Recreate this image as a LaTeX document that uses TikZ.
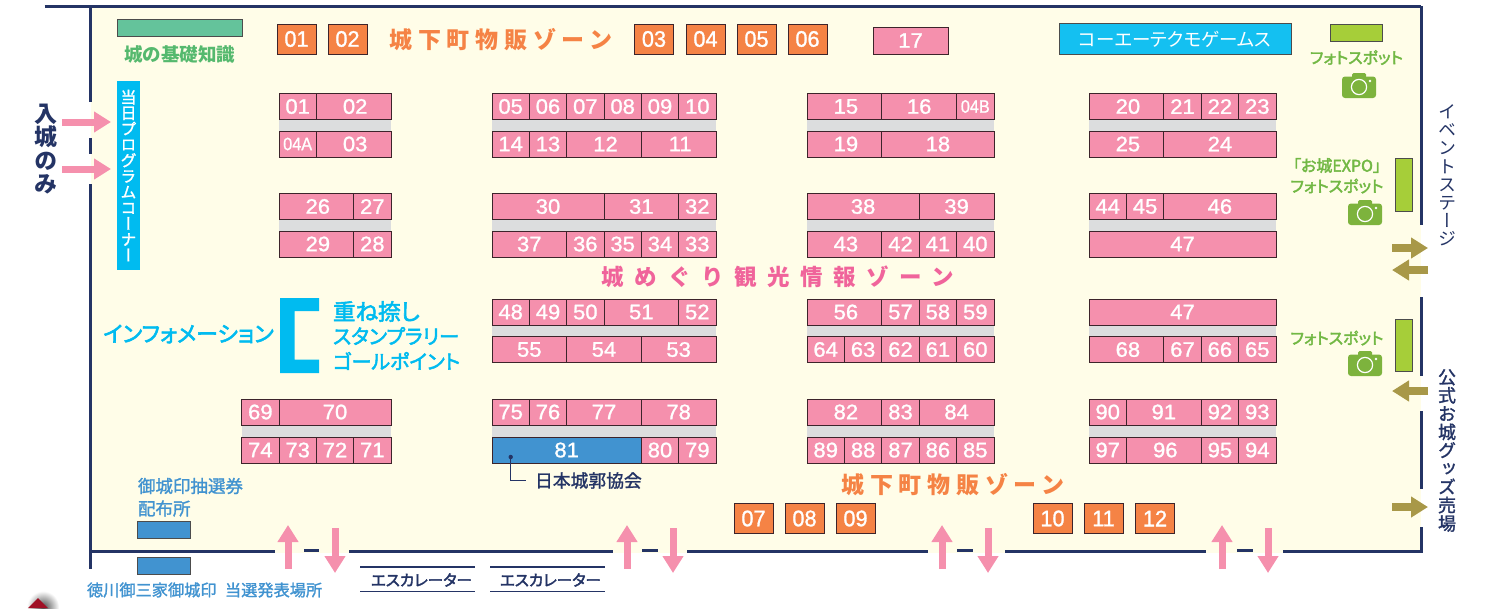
\documentclass[tikz,border=0pt]{standalone}
\usepackage{fontspec}
\usetikzlibrary{arrows.meta}
\setmainfont[FakeBold=1.2,FakeStretch=1.05]{Liberation Sans}
\newfontfamily\jp{Noto Sans CJK JP}
\newfontfamily\jpm[FakeBold=1.5]{Noto Sans CJK JP}
\newfontfamily\jpp[RawFeature=+palt]{Noto Sans CJK JP}
\newfontfamily\jppm[RawFeature=+palt,FakeBold=2.5]{Noto Sans CJK JP}
\newfontfamily\jpv[RawFeature=+vert]{Noto Sans CJK JP}
\newfontfamily\jpvm[RawFeature=+vert,FakeBold=1.5]{Noto Sans CJK JP}
\newfontfamily\jpsA[LetterSpace=25]{Noto Sans CJK JP}
\newfontfamily\jpsB[LetterSpace=47]{Noto Sans CJK JP}
\definecolor{cream}{HTML}{FFFDE8}
\definecolor{navy}{HTML}{243465}
\definecolor{boothpink}{HTML}{F590AD}
\definecolor{aisle}{HTML}{DCDDDE}
\definecolor{orangeb}{HTML}{F58345}
\definecolor{zonepink}{HTML}{F0649B}
\definecolor{skyb}{HTML}{00BBF0}
\definecolor{kblue}{HTML}{4193D0}
\definecolor{lime}{HTML}{A6CE39}
\definecolor{photog}{HTML}{72B844}
\definecolor{camg}{HTML}{7DB33D}
\definecolor{olive}{HTML}{A89848}
\definecolor{seagreen}{HTML}{64C39B}
\definecolor{basegreen}{HTML}{55B96E}
\definecolor{markred}{HTML}{A01025}
\newcommand\fs[1]{\fontsize{#1}{#1}\selectfont}
\newcommand\sh{\hspace*{3pt}}
\tikzset{
  boxbase/.style={draw=black!75!boothpink,line width=.8pt,inner sep=0pt,outer sep=0pt,text=white},
  booth/.style={boxbase,fill=boothpink,font=\fs{21}},
  boothblue/.style={boxbase,fill=kblue,font=\fs{21}},
  orangebox/.style={boxbase,fill=orangeb,font=\fs{22.5},minimum width=39pt,minimum height=30pt},
  plainbox/.style={draw=black!70,line width=.8pt,inner sep=0pt,outer sep=0pt},
  txt/.style={inner sep=0pt,outer sep=0pt},
  wall/.style={draw=navy,line width=3pt},
  thinline/.style={draw=navy,line width=1.3pt},
  pinkarrow/.style={draw=boothpink,line width=7pt,-{Triangle[length=17pt,width=20pt]}},
  olivearrow/.style={draw=olive,line width=7.5pt,-{Triangle[length=17pt,width=20pt]}},
}
\newcounter{cellc}
\def\bx{0}\def\bw{0}\def\ry{0}\def\rh{0}
\newcommand\setblock[2]{\def\bx{#1}\def\bw{#2}}
\newcommand\setrow[2]{\def\ry{#1}\def\rh{#2}}
\newcommand\cell[4][booth]{%
  \stepcounter{cellc}%
  \pgfmathsetmacro\cxa{\bx+(#2)*\bw}%
  \pgfmathsetmacro\cxb{\bx+(#3)*\bw}%
  \pgfmathsetmacro\cxm{(\cxa+\cxb)/2}%
  \pgfmathsetmacro\cwd{\cxb-\cxa}%
  \pgfmathsetmacro\cym{\ry+\rh/2}%
  \node[#1,minimum width=\cwd pt,minimum height=\rh pt] (cell\arabic{cellc}) at (\cxm,\cym) {#4};}
\newcommand\camera[2]{%
  \begin{scope}[shift={(#1,#2)}]
    \fill[camg,rounded corners=3pt] (0,3.5) rectangle (34,25);
    \fill[camg,rounded corners=1.5pt] (10,0) rectangle (24,6);
    \draw[white,line width=1.2pt] (17,14) circle (7.6);
    \fill[white] (28,8) circle (1.3);
  \end{scope}}
\begin{document}
\begin{tikzpicture}[x=1pt,y=-1pt]
\useasboundingbox (0,0) rectangle (1487,608);
% floor
\fill[cream] (91,6) rectangle (1421,553);
% walls
\draw[wall] (44.5,6) -- (1421,6);
\draw[wall] (90.5,6) -- (90.5,102);
\draw[wall] (90.5,138) -- (90.5,154);
\draw[wall] (90.5,184) -- (90.5,569);
\draw[wall] (1421,6) -- (1421,225);
\draw[wall] (1421,297) -- (1421,376);
\draw[wall] (1421,411) -- (1421,489);
\draw[wall] (1421,527) -- (1421,551.5);
\draw[wall] (90.5,551.5) -- (275,551.5);
\draw[wall] (304,550.3) -- (319,550.3);
\draw[wall] (349,551.5) -- (613,551.5);
\draw[wall] (642,550.3) -- (658,550.3);
\draw[wall] (687,551.5) -- (928,551.5);
\draw[wall] (957,550.3) -- (973,550.3);
\draw[wall] (1005,551.5) -- (1206,551.5);
\draw[wall] (1237,550.3) -- (1253,550.3);
\draw[wall] (1283,551.5) -- (1422.5,551.5);
% aisles
\fill[aisle] (279,120) rectangle (391,131);
\fill[aisle] (279,220) rectangle (391,231);
\fill[aisle] (242,426) rectangle (391,437);
\foreach \xa/\xb in {492/716,807/994,1089/1276}{
  \foreach \ya in {120,220,326,426}{
    \fill[aisle] (\xa,\ya) rectangle (\xb,\ya+11);
  }
}
% block A
\setblock{279}{37.33}
\setrow{93.5}{26}\cell{0}{1}{01}\cell{1}{3}{\sh 02}
\setrow{131}{26}\cell{0}{1}{\scalebox{.86}[1]{\fs{18}04A}}\cell{1}{3}{\sh 03}
\setrow{193.5}{26}\cell{0}{2}{\sh 26}\cell{2}{3}{27}
\setrow{231}{26}\cell{0}{2}{\sh 29}\cell{2}{3}{28}
\setrow{399}{26}\cell{-1}{0}{69}\cell{0}{3}{70}
\setrow{437}{26}\cell{-1}{0}{74}\cell{0}{1}{73}\cell{1}{2}{72}\cell{2}{3}{71}
% block B
\setblock{492}{37.33}
\setrow{93.5}{26}\cell{0}{1}{05}\cell{1}{2}{06}\cell{2}{3}{07}\cell{3}{4}{08}\cell{4}{5}{09}\cell{5}{6}{10}
\setrow{131}{26}\cell{0}{1}{14}\cell{1}{2}{13}\cell{2}{4}{\sh 12}\cell{4}{6}{\sh 11}
\setrow{193.5}{26}\cell{0}{3}{30}\cell{3}{5}{31}\cell{5}{6}{32}
\setrow{231}{26}\cell{0}{2}{37}\cell{2}{3}{36}\cell{3}{4}{35}\cell{4}{5}{34}\cell{5}{6}{33}
\setrow{299}{26}\cell{0}{1}{48}\cell{1}{2}{49}\cell{2}{3}{50}\cell{3}{5}{51}\cell{5}{6}{52}
\setrow{336.5}{26}\cell{0}{2}{55}\cell{2}{4}{54}\cell{4}{6}{53}
\setrow{399}{26}\cell{0}{1}{75}\cell{1}{2}{76}\cell{2}{4}{77}\cell{4}{6}{78}
\setrow{437}{26}\cell[boothblue]{0}{4}{81}\cell{4}{5}{80}\cell{5}{6}{79}
% block C
\setblock{807}{37.4}
\setrow{93.5}{26}\cell{0}{2}{\sh 15}\cell{2}{4}{16}\cell{4}{5}{\scalebox{.86}[1]{\fs{18}04B}}
\setrow{131}{26}\cell{0}{2}{\sh 19}\cell{2}{5}{18}
\setrow{193.5}{26}\cell{0}{3}{38}\cell{3}{5}{39}
\setrow{231}{26}\cell{0}{2}{\sh 43}\cell{2}{3}{42}\cell{3}{4}{41}\cell{4}{5}{40}
\setrow{299}{26}\cell{0}{2}{\sh 56}\cell{2}{3}{57}\cell{3}{4}{58}\cell{4}{5}{59}
\setrow{336.5}{26}\cell{0}{1}{64}\cell{1}{2}{63}\cell{2}{3}{62}\cell{3}{4}{61}\cell{4}{5}{60}
\setrow{399}{26}\cell{0}{2}{\sh 82}\cell{2}{3}{83}\cell{3}{5}{84}
\setrow{437}{26}\cell{0}{1}{89}\cell{1}{2}{88}\cell{2}{3}{87}\cell{3}{4}{86}\cell{4}{5}{85}
% block D
\setblock{1089}{37.4}
\setrow{93.5}{26}\cell{0}{2}{\sh 20}\cell{2}{3}{21}\cell{3}{4}{22}\cell{4}{5}{23}
\setrow{131}{26}\cell{0}{2}{\sh 25}\cell{2}{5}{24}
\setrow{193.5}{26}\cell{0}{1}{44}\cell{1}{2}{45}\cell{2}{5}{46}
\setrow{231}{26}\cell{0}{5}{47}
\setrow{299}{26}\cell{0}{5}{47}
\setrow{336.5}{26}\cell{0}{2}{\sh 68}\cell{2}{3}{67}\cell{3}{4}{66}\cell{4}{5}{65}
\setrow{399}{26}\cell{0}{1}{90}\cell{1}{3}{91}\cell{3}{4}{92}\cell{4}{5}{93}
\setrow{437}{26}\cell{0}{1}{97}\cell{1}{3}{\sh 96}\cell{3}{4}{95}\cell{4}{5}{94}
% orange boxes
\node[orangebox] (o01) at (296.5,39) {\scalebox{.92}[1]{01}};
\node[orangebox] (o02) at (347.5,39) {\scalebox{.92}[1]{02}};
\node[orangebox] (o03) at (654,39) {\scalebox{.92}[1]{03}};
\node[orangebox] (o04) at (705.5,39) {\scalebox{.92}[1]{04}};
\node[orangebox] (o05) at (756.5,39) {\scalebox{.92}[1]{05}};
\node[orangebox] (o06) at (807.5,39) {\scalebox{.92}[1]{06}};
\node[orangebox] (o07) at (753.5,518.5) {\scalebox{.92}[1]{07}};
\node[orangebox] (o08) at (804.5,518.5) {\scalebox{.92}[1]{08}};
\node[orangebox] (o09) at (855.5,518.5) {\scalebox{.92}[1]{09}};
\node[orangebox] (o10) at (1052.5,518.5) {\scalebox{.92}[1]{10}};
\node[orangebox] (o11) at (1103.5,518.5) {\scalebox{.92}[1]{11}};
\node[orangebox] (o12) at (1155,518.5) {\scalebox{.92}[1]{12}};
\node[booth,minimum width=75pt,minimum height=27pt] (p17) at (910.5,40.5) {17};
% top boxes
\node[plainbox,fill=seagreen,minimum width=125pt,minimum height=16.5pt] (gbar) at (179.5,28) {};
\node[txt,text=basegreen,font=\jp\bfseries\fs{18.5}] (t1) at (179.5,54) {城の基礎知識};
\node[plainbox,fill=skyb!92!white,text=white,minimum width=232pt,minimum height=31pt,font=\jpp\fs{18.5}] (koei) at (1175,39) {コーエーテクモゲームス\hspace{5pt}};
\node[plainbox,fill=lime,minimum width=52pt,minimum height=16.5pt] (lim1) at (1356,33) {};
\node[plainbox,fill=lime,minimum width=17pt,minimum height=52.5pt] (lim2) at (1403.5,185) {};
\node[plainbox,fill=lime,minimum width=17pt,minimum height=52.5pt] (lim3) at (1403.5,345.5) {};
\node[plainbox,fill=kblue,minimum width=53pt,minimum height=17pt] (kb1) at (163.5,529.5) {};
\node[plainbox,fill=kblue,minimum width=53pt,minimum height=17pt] (kb2) at (163.5,566) {};
% zones
\node[txt,text=orangeb,font=\jpsA\bfseries\fs{23}] (z1) at (501,39.5) {城下町物販ゾーン};
\node[txt,text=orangeb,font=\jpsA\bfseries\fs{23}] (z2) at (953,485) {城下町物販ゾーン};
\node[txt,text=zonepink,font=\jpsB\bfseries\fs{22.5}] (z3) at (778,277) {城めぐり観光情報ゾーン};
% sky
\fill[skyb] (280,298) -- (319,298) -- (319,311) -- (294.5,311) -- (294.5,359.5) -- (319,359.5) -- (319,373) -- (280,373) -- cycle;
\node[txt,text=skyb,font=\jppm\fs{22}] (inf) at (188.5,334) {インフォメーション};
\node[txt,anchor=west,text=skyb,font=\jppm\fs{22.5}] (s1) at (333,311.5) {重ね捺し};
\node[txt,anchor=west,text=skyb,font=\jppm\fs{20.3}] (s2) at (333,336) {スタンプラリー};
\node[txt,anchor=west,text=skyb,font=\jppm\fs{20}] (s3) at (333,361) {ゴールポイント};
\node[fill=skyb,text=white,inner sep=0pt,minimum width=23pt,minimum height=189pt,align=center,font=\jpvm\fontsize{16}{15.8}\selectfont] (prog) at (128.5,175.5) {当\\日\\プ\\ロ\\グ\\ラ\\ム\\コ\\ー\\ナ\\ー};
% vertical side text
\node[txt,text=navy,align=center,font=\jpv\bfseries\fontsize{23}{23.6}\selectfont] (iri) at (45.5,149) {入\\城\\の\\み};
\node[txt,text=navy,align=center,font=\jpv\fontsize{18}{18.2}\selectfont] (ev) at (1447,175.5) {イ\\ベ\\ン\\ト\\ス\\テ\\ー\\ジ};
\node[txt,text=navy,align=center,font=\jpvm\fontsize{18}{18.3}\selectfont] (go) at (1447,450.5) {公\\式\\お\\城\\グ\\ッ\\ズ\\売\\場};
% photo spots
\node[txt,text=photog,font=\jppm\fs{16}] (ph1) at (1356.5,57.5) {フォトスポット};
\node[txt,text=photog,font=\jppm\fs{16}] (ph2a) at (1337,165.5) {「お城EXPO」};
\node[txt,text=photog,font=\jppm\fs{16}] (ph2b) at (1337,186) {フォトスポット};
\node[txt,text=photog,font=\jppm\fs{16}] (ph3) at (1337,338) {フォトスポット};
\camera{1342}{73}
\camera{1348}{200}
\camera{1348}{351}
% blue labels
\node[txt,anchor=west,text=kblue,font=\jpm\fs{17.5}] (k1) at (138,486) {御城印抽選券};
\node[txt,anchor=west,text=kblue,font=\jpm\fs{17.5}] (k2) at (138,508.5) {配布所};
\node[txt,anchor=west,text=kblue,font=\jpm\fs{16.2}] (k3) at (87,590) {徳川御三家御城印};
\node[txt,anchor=west,text=kblue,font=\jpm\fs{16.2}] (k4) at (225,590) {当選発表場所};
% escalators
\coordinate (e1a) at (360,567); \coordinate (e1b) at (475,567);
\coordinate (e2a) at (360,591.5); \coordinate (e2b) at (475,591.5);
\coordinate (e3a) at (490,567); \coordinate (e3b) at (605,567);
\coordinate (e4a) at (490,591.5); \coordinate (e4b) at (605,591.5);
\draw[thinline] (e1a) -- (e1b); \draw[thinline] (e2a) -- (e2b);
\draw[thinline] (e3a) -- (e3b); \draw[thinline] (e4a) -- (e4b);
\node[txt,text=navy,font=\jppm\fs{15.5}] (es1) at (421.5,580) {エスカレーター};
\node[txt,text=navy,font=\jppm\fs{15.5}] (es2) at (550.5,580) {エスカレーター};
% association
\node[txt,anchor=west,text=navy,font=\jpm\fs{17.8}] (nj) at (535,480.5) {日本城郭協会};
\coordinate (dot) at (510.7,457);
\coordinate (lead) at (526,480.5);
\fill[navy] (dot) circle (2.2);
\draw[navy,line width=1pt] (dot) |- (lead);
% pink arrows
\coordinate (la1) at (62,122); \coordinate (lb1) at (111,122);
\coordinate (la2) at (62,169); \coordinate (lb2) at (111,169);
\draw[pinkarrow] (la1) -- (lb1);
\draw[pinkarrow] (la2) -- (lb2);
\foreach \i/\u/\d in {1/288/335,2/627/673,3/942/988,4/1222/1268}{
  \coordinate (ua\i) at (\u,569); \coordinate (ub\i) at (\u,525);
  \coordinate (da\i) at (\d,528); \coordinate (db\i) at (\d,573);
  \draw[pinkarrow] (ua\i) -- (ub\i);
  \draw[pinkarrow] (da\i) -- (db\i);
}
% olive arrows
\coordinate (oa1) at (1392,248); \coordinate (ob1) at (1428,248);
\coordinate (oa2) at (1428,270); \coordinate (ob2) at (1392,270);
\coordinate (oa3) at (1428,391); \coordinate (ob3) at (1392,391);
\coordinate (oa4) at (1392,507); \coordinate (ob4) at (1428,507);
\draw[olivearrow] (oa1) -- (ob1);
\draw[olivearrow] (oa2) -- (ob2);
\draw[olivearrow] (oa3) -- (ob3);
\draw[olivearrow] (oa4) -- (ob4);
% corner mark
\begin{scope}
  \clip (25,588) rectangle (65,608);
  \shade[inner color=black!70,outer color=white] (43,607) circle (16);
\end{scope}
\fill[markred] (28,608) -- (38,598) -- (48,608) -- cycle;
\end{tikzpicture}
\end{document}
